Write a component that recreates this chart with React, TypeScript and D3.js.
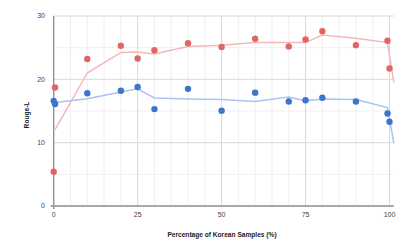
import React from "react";
import * as d3 from "d3";

const xTicks = [0, 25, 50, 75, 100];
const yTicks = [0, 10, 20, 30];

const redX = [0, 0.4, 10, 20, 25, 30, 40, 50, 60, 70, 75, 80, 90, 99.4, 100];
const redY = [5.4, 18.7, 23.2, 25.3, 23.3, 24.6, 25.7, 25.1, 26.4, 25.2, 26.3, 27.6, 25.4, 26.1, 21.7];
const blueX = [0, 0.4, 10, 20, 25, 30, 40, 50, 60, 70, 75, 80, 90, 99.4, 100];
const blueY = [16.6, 16.1, 17.8, 18.2, 18.8, 15.3, 18.5, 15.05, 17.9, 16.5, 16.7, 17.1, 16.5, 14.6, 13.3];

const trendX = [0.4, 10, 20, 25, 30, 40, 50, 60, 70, 75, 80, 90, 99.4, 101.3];
const redTrend = [12.05, 21.0, 24.25, 24.3, 24.0, 25.2, 25.4, 25.8, 25.8, 25.8, 27.0, 26.5, 25.8, 19.5];
const blueTrend = [16.35, 16.95, 18.0, 18.5, 17.05, 16.9, 16.8, 16.5, 17.2, 16.6, 16.9, 16.8, 15.55, 9.9];

const W = 407, H = 252;
const x = d3.scaleLinear().domain([0, 100]).range([53.7, 389.5]);
const xMaxDomain = 101.3;
const y = d3.scaleLinear().domain([0, 30]).range([206, 16]);

export default function App() {
  const line = d3.line<[number, number]>().x(d => x(d[0])).y(d => y(d[1]));
  const minorX = d3.range(5, 101, 5).filter(v => v % 25 !== 0);
  const minorY = [5, 15, 25];
  const font = "'Liberation Sans', Arial, sans-serif";
  const x0 = x(0), x1 = x(xMaxDomain);
  return (
    <svg width={W} height={H} style={{ position: "absolute", left: 0, top: 0, background: "#fff" }}>
      {minorX.map(v => (
        <line key={"mx" + v} x1={x(v)} x2={x(v)} y1={y(0)} y2={y(30)} stroke="#efefef" strokeWidth={1} />
      ))}
      {minorY.map(v => (
        <line key={"my" + v} x1={x0} x2={x1} y1={y(v)} y2={y(v)} stroke="#efefef" strokeWidth={1} />
      ))}
      {xTicks.filter(v => v > 0).map(v => (
        <line key={"gx" + v} x1={x(v)} x2={x(v)} y1={y(0)} y2={y(30)} stroke="#d9d9d9" strokeWidth={1} />
      ))}
      {yTicks.filter(v => v > 0).map(v => (
        <line key={"gy" + v} x1={x0} x2={x1} y1={y(v)} y2={y(v)} stroke="#d9d9d9" strokeWidth={1} />
      ))}
      <line x1={x0} x2={x0} y1={y(30)} y2={y(0) + 3} stroke="#8c8c8c" strokeWidth={1.3} />
      <line x1={x0 - 3} x2={x1} y1={y(0)} y2={y(0)} stroke="#8c8c8c" strokeWidth={1.3} />
      {yTicks.map(v => (
        <text key={"yt" + v} x={45} y={y(v)} dy="0.35em" textAnchor="end" fontSize={7} fill="#444" fontFamily={font}>{v}</text>
      ))}
      {xTicks.map(v => (
        <text key={"xt" + v} x={x(v)} y={215} dy="0.35em" textAnchor="middle" fontSize={7} fill="#444" fontFamily={font}>{v}</text>
      ))}
      <path d={line(trendX.map((v, i) => [v, redTrend[i]] as [number, number])) || ""} fill="none" stroke="#f4b8b8" strokeWidth={1.5} />
      <path d={line(trendX.map((v, i) => [v, blueTrend[i]] as [number, number])) || ""} fill="none" stroke="#a9c4ef" strokeWidth={1.5} />
      {redX.map((v, i) => (
        <circle key={"r" + i} cx={x(v)} cy={y(redY[i])} r={3.2} fill="#e06666" />
      ))}
      {blueX.map((v, i) => (
        <circle key={"b" + i} cx={x(v)} cy={y(blueY[i])} r={3.2} fill="#3f74cc" />
      ))}
      <text x={222} y={235} dy="0.35em" textAnchor="middle" fontSize={6.6} fontWeight="bold" fill="#222" fontFamily={font}>Percentage of Korean Samples (%)</text>
      <text transform={`translate(27,${115}) rotate(-90)`} dy="0.35em" textAnchor="middle" fontSize={6.6} fontWeight="bold" fill="#222" fontFamily={font}>Rouge-L</text>
    </svg>
  );
}
